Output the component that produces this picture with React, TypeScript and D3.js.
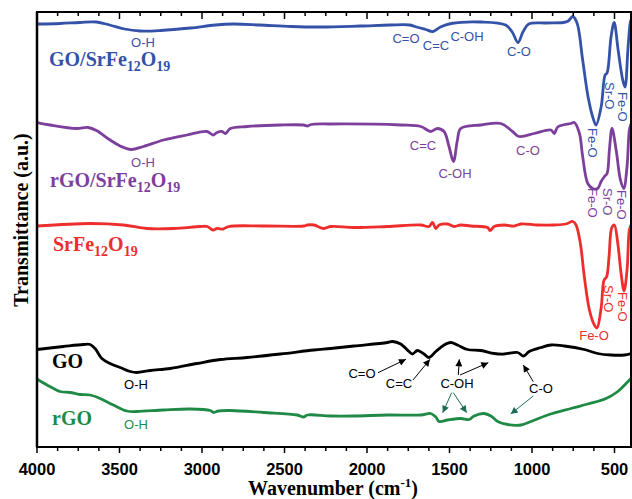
import React from "react";
import * as d3 from "d3";

type P = [number, number];

// wavenumber (cm-1), transmittance (a.u., stacked)
const goSrFe: P[] = [[4000,84.6],[3860,84.7],[3740,84.9],[3640,85.0],[3560,84.4],[3470,83.6],[3375,83.2],[3250,83.3],[3070,83.8],[2920,84.4],[2810,84.6],[2650,84.4],[2460,84.1],[2280,84.0],[2040,84.2],[1860,84.4],[1740,84.4],[1700,84.0],[1645,83.5],[1600,83.1],[1555,84.0],[1490,84.7],[1310,85.0],[1160,84.4],[1120,83.0],[1085,80.9],[1055,83.0],[1020,84.6],[915,84.8],[810,84.9],[780,85.2],[753,86.1],[727,84.8],[693,77.4],[660,70.0],[632,66.0],[612,64.4],[581,68.0],[557,74.4],[545,74.8],[521,82.0],[502,84.9],[478,79.4],[450,73.4],[436,72.0],[419,79.4],[405,84.8],[400,85.4]];

const rgoSrFe: P[] = [[4000,64.9],[3920,64.4],[3760,63.7],[3690,63.9],[3640,63.3],[3557,61.4],[3496,60.2],[3430,59.5],[3355,60.1],[3233,61.4],[3091,62.4],[2970,63.1],[2933,62.4],[2909,62.9],[2879,63.1],[2858,62.7],[2828,63.7],[2727,64.1],[2525,64.4],[2385,64.4],[2360,64.2],[2340,64.5],[2221,64.6],[1796,64.4],[1674,64.1],[1614,63.1],[1573,63.7],[1533,63.1],[1503,60.1],[1476,57.1],[1452,61.4],[1432,63.7],[1310,64.4],[1189,64.7],[1118,63.1],[1078,62.1],[987,62.7],[885,63.4],[865,62.7],[844,64.0],[764,64.7],[744,64.9],[713,62.8],[693,58.1],[662,52.7],[632,51.7],[602,51.7],[581,53.1],[561,54.1],[545,54.7],[531,59.4],[515,63.7],[490,59.4],[464,53.4],[444,51.7],[424,56.1],[410,63.4],[400,64.6]];

const srFe: P[] = [[4000,44.2],[3678,44.7],[3476,44.4],[3334,43.7],[3172,43.7],[3010,44.1],[2968,44.1],[2933,43.4],[2909,43.7],[2871,43.6],[2838,44.1],[2626,44.2],[2383,44.2],[2362,44.4],[2322,44.4],[2262,43.7],[2221,44.1],[2079,43.9],[1877,44.1],[1674,44.4],[1624,44.1],[1603,44.9],[1583,43.7],[1563,44.4],[1512,44.6],[1472,44.1],[1432,44.4],[1371,44.2],[1269,43.9],[1254,43.3],[1229,44.1],[1169,44.4],[1108,44.2],[1067,44.6],[966,44.4],[865,44.4],[794,44.6],[753,45.1],[733,44.4],[707,40.7],[683,34.1],[652,27.4],[622,24.4],[606,23.8],[581,27.8],[563,33.4],[548,34.0],[533,38.1],[517,43.8],[501,44.4],[480,40.7],[460,34.7],[442,31.2],[424,35.4],[410,43.4],[400,44.4]];

const go: P[] = [[4000,19.5],[3840,20.1],[3719,20.5],[3678,20.5],[3648,19.7],[3607,17.7],[3557,16.7],[3496,15.9],[3435,15.1],[3395,14.9],[3314,15.3],[3192,15.7],[3030,16.7],[2889,17.5],[2727,17.9],[2525,18.6],[2322,19.4],[2221,19.7],[2079,20.2],[1877,20.9],[1846,21.1],[1796,20.6],[1745,19.1],[1725,18.6],[1694,19.3],[1654,18.6],[1624,17.9],[1583,19.1],[1533,20.4],[1492,20.9],[1452,20.4],[1391,19.5],[1310,19.3],[1229,18.7],[1169,18.6],[1087,18.9],[1051,18.2],[1017,19.1],[946,19.9],[885,20.4],[804,20.2],[683,19.5],[602,18.7],[521,18.4],[440,18.4],[400,18.7]];

const rgo: P[] = [[4000,13.6],[3939,12.4],[3860,11.1],[3800,10.9],[3739,10.5],[3678,10.4],[3617,9.7],[3537,8.4],[3455,7.2],[3395,7.1],[3233,7.4],[3071,7.6],[2950,7.3],[2929,6.9],[2901,7.2],[2828,7.3],[2626,6.9],[2423,6.4],[2383,6.0],[2362,6.4],[2221,6.2],[2079,6.2],[1877,6.4],[1674,6.4],[1614,6.7],[1583,6.0],[1563,5.1],[1512,5.4],[1432,5.7],[1381,5.5],[1351,6.2],[1290,6.7],[1249,6.2],[1208,5.1],[1148,4.5],[1067,4.4],[1006,5.1],[905,6.4],[764,7.7],[662,8.6],[551,9.7],[480,11.1],[430,12.7],[400,13.7]];

const xTickLabels = [4000, 3500, 3000, 2500, 2000, 1500, 1000, 500];

const BLUE = "#3452a8";
const PURPLE = "#7c3f9b";
const RED = "#ee2d2d";
const GREEN = "#1f8a45";
const ARROW_GREEN = "#1b6e55";

const SERIF = "'Liberation Serif', 'Times New Roman', serif";
const SANS = "'Liberation Sans', Arial, sans-serif";

export default function App() {
  const L = 37, R = 631, T = 12, B = 447;
  const x = d3.scaleLinear().domain([4000, 400]).range([L, R]);
  const y = d3.scaleLinear().domain([0, 87]).range([B, T]);
  const line = d3.line<P>().x(d => x(d[0])).y(d => y(d[1])).curve(d3.curveCatmullRom.alpha(0.5));
  const ticks = d3.range(4000, 399, -125);

  const series: { d: P[]; c: string }[] = [
    { d: goSrFe, c: BLUE },
    { d: rgoSrFe, c: PURPLE },
    { d: srFe, c: RED },
    { d: go, c: "#000" },
    { d: rgo, c: GREEN },
  ];

  const big = (label: React.ReactNode, xx: number, yy: number, c: string) => (
    <text x={xx} y={yy} fill={c} fontFamily={SERIF} fontWeight="bold" fontSize={20}>{label}</text>
  );
  const formula = (prefix: string) => (
    <>
      {prefix}SrFe<tspan fontSize={14} dy={5}>12</tspan><tspan dy={-5}>O</tspan><tspan fontSize={14} dy={5}>19</tspan>
    </>
  );
  const ann = (t: string, xx: number, yy: number, c: string) => (
    <text x={xx} y={yy} fill={c} fontFamily={SANS} fontSize={13} textAnchor="middle">{t}</text>
  );
  const rot = (t: string, xx: number, yy: number, c: string) => (
    <text transform={`translate(${xx},${yy}) rotate(90)`} fill={c} fontFamily={SANS} fontSize={13}>{t}</text>
  );

  return (
    <svg width={632} height={499} style={{ position: "absolute", left: 0, top: 0, background: "#fff" }}>
      <defs>
        <marker id="ahB" viewBox="0 0 10 10" refX="10" refY="5" markerWidth="9" markerHeight="7" markerUnits="userSpaceOnUse" orient="auto">
          <path d="M0,0 L10,5 L0,10 z" fill="#000" />
        </marker>
        <marker id="ahG" viewBox="0 0 10 10" refX="10" refY="5" markerWidth="9" markerHeight="7" markerUnits="userSpaceOnUse" orient="auto">
          <path d="M0,0 L10,5 L0,10 z" fill={ARROW_GREEN} />
        </marker>
        <clipPath id="plot"><rect x={L} y={T} width={R - L} height={B - T} /></clipPath>
      </defs>

      {/* spectra */}
      <g clipPath="url(#plot)">
        {series.map((s, i) => (
          <path key={i} d={line(s.d) || ""} fill="none" stroke={s.c} strokeWidth={2.8} strokeLinejoin="round" />
        ))}
      </g>

      {/* frame */}
      <rect x={L} y={T} width={R - L} height={B - T} fill="none" stroke="#000" strokeWidth={2} />
      <line x1={L} x2={L} y1={T} y2={B} stroke="#000" strokeWidth={2.5} />

      {/* ticks */}
      {ticks.map(t => {
        const major = t % 500 === 0;
        return (
          <g key={t}>
            <line x1={x(t)} x2={x(t)} y1={T} y2={T + (major ? 7 : 4)} stroke="#000" strokeWidth={1.5} />
            <line x1={x(t)} x2={x(t)} y1={B} y2={B + (major ? 6 : 4)} stroke="#000" strokeWidth={1.5} />
          </g>
        );
      })}
      {xTickLabels.map(t => (
        <text key={t} x={x(t)} y={475} textAnchor="middle" fontFamily={SANS} fontWeight="bold" fontSize={16.5}>{t}</text>
      ))}

      {/* axis titles */}
      <text x={333} y={495} textAnchor="middle" fontFamily={SERIF} fontWeight="bold" fontSize={20}>
        Wavenumber (cm<tspan fontSize={13} dy={-8}>-1</tspan><tspan dy={8}>)</tspan>
      </text>
      <text transform="translate(28,220) rotate(-90)" textAnchor="middle" fontFamily={SERIF} fontWeight="bold" fontSize={20}>
        Transmittance (a.u.)
      </text>

      {/* series labels */}
      {big(formula("GO/"), 49, 66, BLUE)}
      {big(formula("rGO/"), 50, 187, PURPLE)}
      {big(formula(""), 53, 251, RED)}
      {big("GO", 52, 368, "#000")}
      {big("rGO", 52, 425, GREEN)}

      {/* blue annotations */}
      {ann("O-H", 143, 47, BLUE)}
      {ann("C=O", 406, 43, BLUE)}
      {ann("C=C", 436, 50, BLUE)}
      {ann("C-OH", 467, 41, BLUE)}
      {ann("C-O", 519, 56, BLUE)}
      {rot("Sr-O", 604.5, 82, BLUE)}
      {rot("Fe-O", 618, 92, BLUE)}
      {rot("Fe-O", 588, 128, BLUE)}

      {/* purple annotations */}
      {ann("O-H", 143, 167, PURPLE)}
      {ann("C=C", 423, 150, PURPLE)}
      {ann("C-OH", 455, 178, PURPLE)}
      {ann("C-O", 528, 155, PURPLE)}
      {rot("Fe-O", 588, 188, PURPLE)}
      {rot("Sr-O", 603, 188, PURPLE)}
      {rot("Fe-O", 617, 190, PURPLE)}

      {/* red annotations */}
      {ann("Fe-O", 594, 340, RED)}
      {rot("Sr-O", 604, 285, RED)}
      {rot("Fe-O", 617.5, 292, RED)}

      {/* black annotations */}
      {ann("O-H", 136, 389, "#000")}
      {ann("C=O", 362, 378, "#000")}
      {ann("C=C", 399, 388, "#000")}
      {ann("C-OH", 457, 388, "#000")}
      {ann("C-O", 541, 393, "#000")}
      <g stroke="#000" strokeWidth={1} markerEnd="url(#ahB)">
        <line x1={378} y1={372.7} x2={406} y2={359.3} markerEnd="url(#ahB)" />
        <line x1={413} y1={380} x2={430} y2={359.3} markerEnd="url(#ahB)" />
        <line x1={458.3} y1={375} x2={459.3} y2={359.3} markerEnd="url(#ahB)" />
        <line x1={460} y1={375} x2={488.3} y2={362.7} markerEnd="url(#ahB)" />
        <line x1={533.3} y1={381.7} x2={523.3} y2={365} markerEnd="url(#ahB)" />
      </g>

      {/* green annotations */}
      {ann("O-H", 136, 429, GREEN)}
      <g stroke={ARROW_GREEN} strokeWidth={1}>
        <line x1={451.7} y1={392.7} x2={442.7} y2={412.7} markerEnd="url(#ahG)" />
        <line x1={453.3} y1={392.7} x2={466.7} y2={412.7} markerEnd="url(#ahG)" />
        <line x1={533.3} y1={396} x2={510.7} y2={414} markerEnd="url(#ahG)" />
      </g>
    </svg>
  );
}
